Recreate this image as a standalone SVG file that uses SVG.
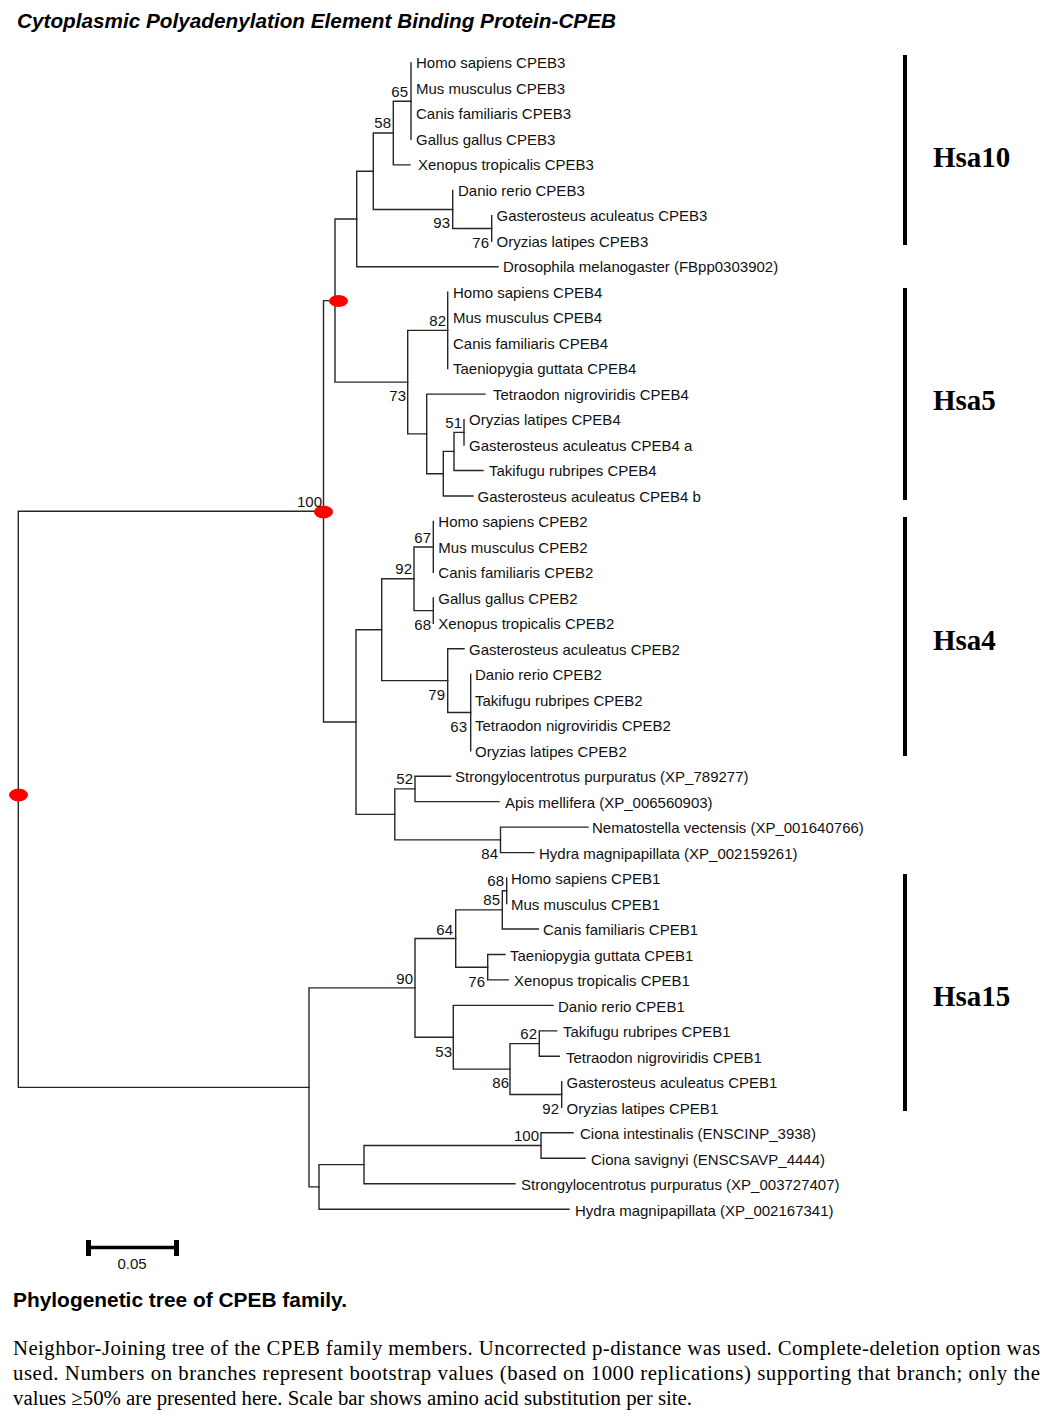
<svg xmlns="http://www.w3.org/2000/svg" width="1057" height="1423" viewBox="0 0 1057 1423">
<style>
.br{stroke:#262626;stroke-width:1.4;fill:none;stroke-linecap:square}
.t{font-family:"Liberation Sans",Arial,sans-serif;font-size:15px;fill:#111}
.bs{font-family:"Liberation Sans",Arial,sans-serif;font-size:15px;fill:#111;text-anchor:end}
.hs{font-family:"Liberation Serif","Times New Roman",serif;font-weight:bold;font-size:29px;fill:#000}
.bar{fill:#000}
.dot{fill:#ff0000}
.cap{font-family:"Liberation Serif","Times New Roman",serif;font-size:20.8px;fill:#000}
</style>
<rect width="1057" height="1423" fill="#fff"/>
<text x="17" y="28" font-family="Liberation Sans, Arial, sans-serif" font-weight="bold" font-style="italic" font-size="20" textLength="599" lengthAdjust="spacingAndGlyphs">Cytoplasmic Polyadenylation Element Binding Protein-CPEB</text>

<g id="connectors" class="br">
<path d="M18.3,511.3V1087.4M18.3,511.3H323.5M18.3,1087.4H309"/>
<path d="M323.5,300.6V722.05M323.5,300.6H335M323.5,722.05H356"/>
<path d="M335,219.05V382.15M335,219.05H356.7M335,382.15H407.7"/>
<path d="M356.7,171.3V266.8M356.7,171.3H373.3M356.7,266.8H498"/>
<path d="M373.3,133.05V209.5M373.3,133.05H393.3M373.3,209.5H452.7"/>
<path d="M393.3,101.2V164.9M393.3,101.2H411M393.3,164.9H410"/>
<path d="M411,63V139.4"/>
<path d="M452.7,190.4V228.55M452.7,228.55H491.7"/>
<path d="M491.7,215.8V241.3"/>
<path d="M407.7,330.4V433.9M407.7,330.4H447.7M407.7,433.9H426.7"/>
<path d="M447.7,292.2V368.6"/>
<path d="M426.7,394.1V473.7M426.7,394.1H485M426.7,473.7H443.3"/>
<path d="M443.3,451.4V496M443.3,451.4H454M443.3,496H473"/>
<path d="M454,432.35V470.5M454,432.35H464M454,470.5H483"/>
<path d="M464,419.6V445.1"/>
<path d="M356,629.7V814.4M356,629.7H381.7M356,814.4H394.8"/>
<path d="M381.7,578.8V680.65M381.7,578.8H414M381.7,680.65H447.7"/>
<path d="M414,546.95V610.6M414,546.95H433.3M414,610.6H433.3"/>
<path d="M433.3,521.5V572.4"/>
<path d="M433.3,597.9V623.3"/>
<path d="M447.7,648.8V712.5M447.7,648.8H464M447.7,712.5H470.7"/>
<path d="M470.7,674.3V750.7"/>
<path d="M394.8,788.9V839.85M394.8,788.9H415M394.8,839.85H500.5"/>
<path d="M415,776.2V801.6M415,776.2H450.6M415,801.6H499"/>
<path d="M500.5,827.1V852.6M500.5,827.1H588M500.5,852.6H534"/>
<path d="M309,987.9V1186.9M309,987.9H415M309,1186.9H319"/>
<path d="M415,938.55V1037.25M415,938.55H455.7M415,1037.25H453.3"/>
<path d="M455.7,909.9V967.2M455.7,909.9H502.3M455.7,967.2H487.7"/>
<path d="M502.3,890.75V929M502.3,890.75H506.7M502.3,929H538.3"/>
<path d="M506.7,878V903.5"/>
<path d="M487.7,954.5V979.9M487.7,954.5H505M487.7,979.9H508.3"/>
<path d="M453.3,1005.4V1069.1M453.3,1005.4H553M453.3,1069.1H510"/>
<path d="M510,1043.6V1094.55M510,1043.6H539.3M510,1094.55H561.7"/>
<path d="M539.3,1030.9V1056.3M539.3,1030.9H556.7M539.3,1056.3H559.3"/>
<path d="M561.7,1081.8V1107.3"/>
<path d="M319,1164.6V1209.2M319,1164.6H364M319,1209.2H569"/>
<path d="M364,1145.5V1183.7M364,1145.5H541M364,1183.7H515"/>
<path d="M541,1132.8V1158.2M541,1132.8H573M541,1158.2H585"/>
</g>

<g id="markers">
<ellipse class="dot" cx="338.5" cy="301" rx="9.5" ry="6"/>
<ellipse class="dot" cx="323.5" cy="512" rx="9.5" ry="6.5"/>
<ellipse class="dot" cx="18.5" cy="795" rx="9.5" ry="6.5"/>
</g>

<g id="bootstrap">
<text class="bs" x="408" y="97">65</text>
<text class="bs" x="391" y="128">58</text>
<text class="bs" x="450" y="228">93</text>
<text class="bs" x="489" y="248">76</text>
<text class="bs" x="446" y="326">82</text>
<text class="bs" x="406" y="401">73</text>
<text class="bs" x="462" y="428">51</text>
<text class="bs" x="322" y="507">100</text>
<text class="bs" x="431" y="543">67</text>
<text class="bs" x="412" y="574">92</text>
<text class="bs" x="431" y="630">68</text>
<text class="bs" x="445" y="700">79</text>
<text class="bs" x="467" y="732">63</text>
<text class="bs" x="413" y="784">52</text>
<text class="bs" x="498" y="859">84</text>
<text class="bs" x="504" y="886">68</text>
<text class="bs" x="500" y="905">85</text>
<text class="bs" x="453" y="935">64</text>
<text class="bs" x="413" y="984">90</text>
<text class="bs" x="485" y="987">76</text>
<text class="bs" x="537" y="1039">62</text>
<text class="bs" x="452" y="1057">53</text>
<text class="bs" x="509" y="1088">86</text>
<text class="bs" x="559" y="1114">92</text>
<text class="bs" x="539" y="1141">100</text>
</g>

<g id="leaves">
<g id="n1"><text class="t" x="416" y="68">Homo sapiens CPEB3</text></g>
<g id="n2"><text class="t" x="416" y="93.5">Mus musculus CPEB3</text></g>
<g id="n3"><text class="t" x="416" y="119">Canis familiaris CPEB3</text></g>
<g id="n4"><text class="t" x="416" y="144.5">Gallus gallus CPEB3</text></g>
<g id="n5"><text class="t" x="418" y="170">Xenopus tropicalis CPEB3</text></g>
<g id="n6"><text class="t" x="458" y="195.5">Danio rerio CPEB3</text></g>
<g id="n7"><text class="t" x="496.5" y="221">Gasterosteus aculeatus CPEB3</text></g>
<g id="n8"><text class="t" x="496.5" y="246.5">Oryzias latipes CPEB3</text></g>
<g id="n9"><text class="t" x="503" y="272">Drosophila melanogaster (FBpp0303902)</text></g>
<g id="n10"><text class="t" x="453" y="297.5">Homo sapiens CPEB4</text></g>
<g id="n11"><text class="t" x="453" y="323">Mus musculus CPEB4</text></g>
<g id="n12"><text class="t" x="453" y="348.5">Canis familiaris CPEB4</text></g>
<g id="n13"><text class="t" x="453" y="374">Taeniopygia guttata CPEB4</text></g>
<g id="n14"><text class="t" x="493" y="399.5">Tetraodon nigroviridis CPEB4</text></g>
<g id="n15"><text class="t" x="469" y="425">Oryzias latipes CPEB4</text></g>
<g id="n16"><text class="t" x="469" y="450.5">Gasterosteus aculeatus CPEB4 a</text></g>
<g id="n17"><text class="t" x="489" y="476">Takifugu rubripes CPEB4</text></g>
<g id="n18"><text class="t" x="477.5" y="501.5">Gasterosteus aculeatus CPEB4 b</text></g>
<g id="n19"><text class="t" x="438.3" y="527">Homo sapiens CPEB2</text></g>
<g id="n20"><text class="t" x="438.3" y="552.5">Mus musculus CPEB2</text></g>
<g id="n21"><text class="t" x="438.3" y="578">Canis familiaris CPEB2</text></g>
<g id="n22"><text class="t" x="438.3" y="603.5">Gallus gallus CPEB2</text></g>
<g id="n23"><text class="t" x="438.3" y="629">Xenopus tropicalis CPEB2</text></g>
<g id="n24"><text class="t" x="469" y="654.5">Gasterosteus aculeatus CPEB2</text></g>
<g id="n25"><text class="t" x="475" y="680">Danio rerio CPEB2</text></g>
<g id="n26"><text class="t" x="475" y="705.5">Takifugu rubripes CPEB2</text></g>
<g id="n27"><text class="t" x="475" y="731">Tetraodon nigroviridis CPEB2</text></g>
<g id="n28"><text class="t" x="475" y="756.5">Oryzias latipes CPEB2</text></g>
<g id="n29"><text class="t" x="455" y="782">Strongylocentrotus purpuratus (XP_789277)</text></g>
<g id="n30"><text class="t" x="505" y="807.5">Apis mellifera (XP_006560903)</text></g>
<g id="n31"><text class="t" x="592" y="833">Nematostella vectensis (XP_001640766)</text></g>
<g id="n32"><text class="t" x="539" y="858.5">Hydra magnipapillata (XP_002159261)</text></g>
<g id="n33"><text class="t" x="511" y="884">Homo sapiens CPEB1</text></g>
<g id="n34"><text class="t" x="511" y="909.5">Mus musculus CPEB1</text></g>
<g id="n35"><text class="t" x="543" y="935">Canis familiaris CPEB1</text></g>
<g id="n36"><text class="t" x="510" y="960.5">Taeniopygia guttata CPEB1</text></g>
<g id="n37"><text class="t" x="514" y="986">Xenopus tropicalis CPEB1</text></g>
<g id="n38"><text class="t" x="558" y="1011.5">Danio rerio CPEB1</text></g>
<g id="n39"><text class="t" x="563" y="1037">Takifugu rubripes CPEB1</text></g>
<g id="n40"><text class="t" x="566" y="1062.5">Tetraodon nigroviridis CPEB1</text></g>
<g id="n41"><text class="t" x="566.5" y="1088">Gasterosteus aculeatus CPEB1</text></g>
<g id="n42"><text class="t" x="566.5" y="1113.5">Oryzias latipes CPEB1</text></g>
<g id="n43"><text class="t" x="580" y="1139">Ciona intestinalis (ENSCINP_3938)</text></g>
<g id="n44"><text class="t" x="591" y="1164.5">Ciona savignyi (ENSCSAVP_4444)</text></g>
<g id="n45"><text class="t" x="521" y="1190">Strongylocentrotus purpuratus (XP_003727407)</text></g>
<g id="n46"><text class="t" x="575" y="1215.5">Hydra magnipapillata (XP_002167341)</text></g>
</g>

<g id="groups">
<g id="hsa10"><rect class="bar" x="903" y="55" width="4" height="190"/><text class="hs" x="933" y="167">Hsa10</text></g>
<g id="hsa5"><rect class="bar" x="903" y="288" width="4" height="212"/><text class="hs" x="933" y="410">Hsa5</text></g>
<g id="hsa4"><rect class="bar" x="903" y="517" width="4" height="239"/><text class="hs" x="933" y="650">Hsa4</text></g>
<g id="hsa15"><rect class="bar" x="903" y="874" width="4" height="237"/><text class="hs" x="933" y="1006">Hsa15</text></g>
</g>

<g id="scale">
<path d="M88,1247.5H177" stroke="#000" stroke-width="3.5"/>
<rect x="86" y="1240" width="5" height="16" fill="#000"/>
<rect x="174" y="1240" width="5" height="16" fill="#000"/>
<text class="t" x="132" y="1269" text-anchor="middle">0.05</text>
</g>

<g id="caption">
<text x="13" y="1307" font-family="Liberation Sans, Arial, sans-serif" font-weight="bold" font-size="20.9">Phylogenetic tree of CPEB family.</text>
<text class="cap" x="13" y="1355" textLength="1027" lengthAdjust="spacing">Neighbor-Joining tree of the CPEB family members. Uncorrected p-distance was used. Complete-deletion option was</text>
<text class="cap" x="13" y="1380" textLength="1027" lengthAdjust="spacing">used. Numbers on branches represent bootstrap values (based on 1000 replications) supporting that branch; only the</text>
<text class="cap" x="13" y="1405">values ≥50% are presented here. Scale bar shows amino acid substitution per site.</text>
</g>
</svg>
